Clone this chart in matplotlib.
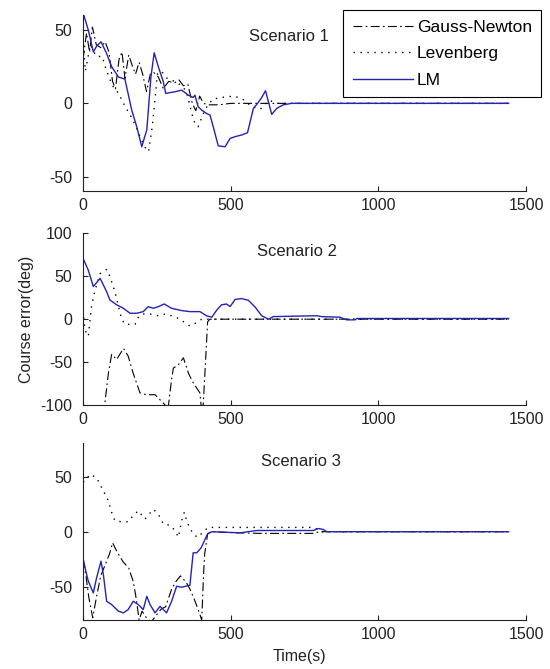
import numpy as np
import matplotlib.pyplot as plt

plt.rcParams['font.family'] = ['Liberation Sans', 'DejaVu Sans']
plt.rcParams['axes.unicode_minus'] = False

# ---- Scenario 1 ----
t1_gn = [0, 12, 22, 32, 45, 60, 75, 88, 100, 110, 122, 132, 142, 155, 168, 178, 190, 202, 215, 228, 240,
         255, 272, 290, 310, 325, 340, 355, 370, 382, 395, 408, 425, 460, 500, 700, 1441]
v1_gn = [30, 48, 35, 52, 40, 38, 42, 35, 15, 10, 30, 35, 17, 33, 25, 20, 28, 20, 8, 20, 21,
         18, 10, 15, 14, 16, 12, 13, 0, -5, 5, 0, -1, -1, 0, 0, 0]
t1_lev = [0, 8, 25, 45, 65, 80, 100, 120, 142, 160, 175, 192, 210, 222, 235, 245, 252, 265, 285, 310,
          335, 350, 365, 375, 390, 405, 420, 440, 470, 510, 540, 570, 600, 630, 660, 700, 1441]
v1_lev = [45, 22, 40, 32, 32, 22, 12, 7, -2, -8, -14, -22, -30, -33, -15, 5, 20, 22, 17, 15,
          12, 8, -4, -12, -16, -8, -2, 3, 4, 5, 3, -2, -4, 2, 0, 0, 0]
t1_lm = [0, 18, 35, 46, 61, 80, 97, 120, 142, 165, 182, 199, 216, 230, 241, 255, 272, 280, 311, 334,
         357, 373, 379, 390, 402, 419, 430, 441, 458, 481, 498, 515, 537, 557, 577, 591, 605, 618,
         639, 656, 678, 706, 1441]
v1_lm = [62, 50, 35, 39, 42, 34, 25, 18, 16.5, -4.6, -16, -29.6, -18, 18, 34.5, 25, 14.7, 6.8, 7.9, 9,
         5.6, 4, 5.6, -2.3, -4.6, -7, -8, -16, -29, -29.6, -23.9, -22.7, -21.6, -20, -3.4, 0, 4, 8.6,
         -7.5, -3.4, -1, 0, 0]

# ---- Scenario 2 ----
t2_gn = [0, 60, 74, 86, 97, 114, 137, 153, 170, 193, 215, 244, 261, 278, 286, 300, 306, 323, 340, 357,
         373, 396, 400, 407, 422, 430, 1441]
v2_gn = [-130, -130, -98, -63, -41, -47, -34, -43, -63, -86, -88, -88, -94, -100, -110, -70, -57, -53, -45, -63,
         -74, -86, -101, -100, -3, 0, 0]
t2_lev = [0, 7, 18, 29, 41, 58, 80, 91, 108, 120, 131, 142, 159, 176, 187, 199, 227, 255, 278, 300,
          323, 345, 362, 385, 402, 600, 1441]
v2_lev = [10, -13, -20, 15, 34, 53, 58, 50, 32, 15, 0, -6, -6, -6, 2, 6, 6, 4, 6, 4,
          1, -4, -8, -4, 0, 0, 0]
t2_lm = [0, 18, 35, 58, 80, 91, 114, 137, 159, 182, 204, 221, 238, 255, 275, 300, 334, 362, 396, 419,
         436, 453, 469, 486, 498, 515, 537, 560, 583, 605, 628, 644, 791, 808, 870, 893, 921, 927, 1441]
v2_lm = [71, 57, 38, 47.6, 32, 22.4, 16.7, 12.7, 6.9, 6.9, 8.8, 14.6, 12.7, 14.6, 17.7, 12.7, 10, 8.8, 8.8, 3.8,
         2.3, 10.7, 16.7, 17.7, 14.6, 23, 24, 22, 14, 4, 0, 3, 4, 3, 2.3, -0.8, -0.8, 0.8, 0.8]

# ---- Scenario 3 ----
t3_gn = [0, 10, 20, 33, 45, 60, 75, 90, 100, 115, 135, 155, 170, 178, 185, 190, 200, 215, 230, 250,
         265, 280, 300, 315, 330, 350, 362, 378, 392, 402, 408, 412, 422, 435, 520, 600, 780, 800, 1441]
v3_gn = [-25, -40, -60, -78, -60, -40, -30, -20, -10, -18, -27, -33, -45, -57, -70, -80, -72, -78, -82, -75,
         -70, -68, -52, -45, -40, -46, -52, -62, -72, -80, -40, -20, -2, 0, -1, -1.5, -1.5, 0, 0]
t3_lev = [0, 7, 24, 46, 69, 86, 97, 108, 131, 153, 170, 187, 210, 238, 255, 272, 295, 311, 323, 334,
          343, 351, 362, 379, 390, 407, 424, 780, 810, 1441]
v3_lev = [45, 46, 52, 49, 37, 28, 17.6, 10, 9, 9, 14.6, 19, 11.5, 20.3, 16, 7, 5.8, 1.2, -5, 10,
          17.6, 10, 2.7, -3.6, -5, 0, 3.9, 3.9, 0, 0]
t3_lm = [0, 7, 18, 35, 46, 61, 69, 80, 97, 120, 137, 153, 170, 187, 204, 216, 227, 244, 261, 272,
         283, 300, 317, 334, 362, 373, 385, 400, 413, 422, 436, 532, 588, 780, 797, 814, 825, 1441]
v3_lm = [-23.6, -32.7, -44.8, -55.4, -41.8, -26.7, -38.8, -63, -66, -72, -73.5, -70.5, -63, -66, -70.5, -58.5,
         -66, -73.5, -67.6, -70.5, -73.5, -63, -49.4, -50.3, -48.5, -19.1, -19.1, -14.6, -7, -1.8, 0, -1,
         1.1, 1.1, 2.9, 2, 0, 0]

titles = ['Scenario 1', 'Scenario 2', 'Scenario 3']
ylims = [(-60, 60), (-100, 100), (-80, 80)]
yticks = [[-50, 0, 50], [-100, -50, 0, 50, 100], [-50, 0, 50]]
xticks = [0, 500, 1000, 1500]

GN_STYLE = (0, (8, 3, 1.5, 3))
LEV_STYLE = (0, (1, 4))
BLUE = '#2323b5'


def main():
    fig = plt.figure(figsize=(5.5, 6.69), dpi=100)
    boxes = [[0.1509, 0.714, 0.8055, 0.263],
             [0.1509, 0.3946, 0.8055, 0.2566],
             [0.1509, 0.0732, 0.8055, 0.264]]
    title_pos = [(0.465, 0.878), (0.482, 0.893), (0.492, 0.896)]
    data = [(t1_gn, v1_gn, t1_lev, v1_lev, t1_lm, v1_lm),
            (t2_gn, v2_gn, t2_lev, v2_lev, t2_lm, v2_lm),
            (t3_gn, v3_gn, t3_lev, v3_lev, t3_lm, v3_lm)]

    handles = None
    for i in range(3):
        ax = fig.add_axes(boxes[i])
        tg, vg, tl, vl, tm, vm = data[i]
        h1, = ax.plot(tg, vg, color='black', lw=0.8, linestyle=GN_STYLE, label='Gauss-Newton')
        h2, = ax.plot(tl, vl, color='black', lw=1.0, linestyle=LEV_STYLE, label='Levenberg')
        h3, = ax.plot(tm, vm, color=BLUE, lw=1.0, label='LM')
        if handles is None:
            handles = [h1, h2, h3]
        ax.set_xlim(0, 1500)
        ax.set_ylim(*ylims[i])
        ax.set_xticks(xticks)
        ax.set_yticks(yticks[i])
        ax.spines['top'].set_visible(False)
        ax.spines['right'].set_visible(False)
        for s in ['left', 'bottom']:
            ax.spines[s].set_linewidth(0.8)
            ax.spines[s].set_color('#222222')
        ax.tick_params(direction='in', length=3.5, width=0.8, labelsize=11.5, colors='#222222')
        ax.tick_params(axis='y', pad=8)
        ax.tick_params(axis='x', pad=5)
        ax.text(title_pos[i][0], title_pos[i][1], titles[i], transform=ax.transAxes,
                ha='center', va='center', fontsize=12, color='#222222')

    leg = fig.legend(handles=handles, loc='upper left', bbox_to_anchor=(0.6236, 0.861, 0.36, 0.124),
                     mode='expand', fontsize=12.5, frameon=True, fancybox=False, handlelength=3.5,
                     handletextpad=0.2, labelspacing=0.65, borderaxespad=0, borderpad=0.55)
    leg.get_frame().set_edgecolor('black')
    leg.get_frame().set_linewidth(0.8)
    leg.get_frame().set_alpha(1)

    fig.text(0.049, 0.523, 'Course error(deg)', rotation=90, ha='center', va='center',
             fontsize=11.5, color='#222222')
    fig.text(0.545, 1 - 656 / 669, 'Time(s)', ha='center', va='center', fontsize=11.5, color='#222222')

    fig.savefig('out.png', dpi=100)


if __name__ == '__main__':
    main()
